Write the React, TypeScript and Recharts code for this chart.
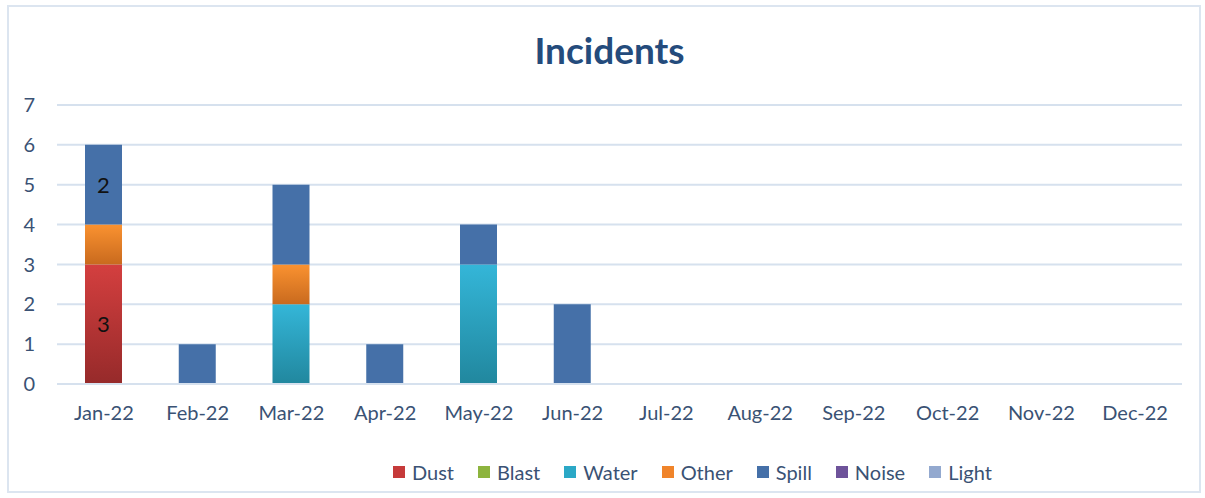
import React from 'react';
import { BarChart, Bar, XAxis, YAxis, CartesianGrid, LabelList } from 'recharts';

const months = ['Jan-22', 'Feb-22', 'Mar-22', 'Apr-22', 'May-22', 'Jun-22', 'Jul-22', 'Aug-22', 'Sep-22', 'Oct-22', 'Nov-22', 'Dec-22'];
const dust = [3, 0, 0, 0, 0, 0, 0, 0, 0, 0, 0, 0];
const blast = [0, 0, 0, 0, 0, 0, 0, 0, 0, 0, 0, 0];
const water = [0, 0, 2, 0, 3, 0, 0, 0, 0, 0, 0, 0];
const other = [1, 0, 1, 0, 0, 0, 0, 0, 0, 0, 0, 0];
const spill = [2, 1, 2, 1, 1, 2, 0, 0, 0, 0, 0, 0];
const noise = [0, 0, 0, 0, 0, 0, 0, 0, 0, 0, 0, 0];
const light = [0, 0, 0, 0, 0, 0, 0, 0, 0, 0, 0, 0];
// only January carries data labels in the original
const dustLabels = [3, null, null, null, null, null, null, null, null, null, null, null];
const spillLabels = [2, null, null, null, null, null, null, null, null, null, null, null];
const yTicks = [0, 1, 2, 3, 4, 5, 6, 7];

const series = [
  { key: 'Dust', color: '#C63A3A', fill: 'url(#gDust)' },
  { key: 'Blast', color: '#8DB43E', fill: '#8DB43E' },
  { key: 'Water', color: '#2BA8C6', fill: 'url(#gWater)' },
  { key: 'Other', color: '#F0842A', fill: 'url(#gOther)' },
  { key: 'Spill', color: '#4570A8', fill: '#4570A8' },
  { key: 'Noise', color: '#6E539A', fill: '#6E539A' },
  { key: 'Light', color: '#93A9CF', fill: '#93A9CF' },
];

const data = months.map((m, i) => ({
  month: m,
  Dust: dust[i],
  Blast: blast[i],
  Water: water[i],
  Other: other[i],
  Spill: spill[i],
  Noise: noise[i],
  Light: light[i],
  dustLabel: dustLabels[i],
  spillLabel: spillLabels[i],
}));

const FONT = 'Lato, "Open Sans", sans-serif';
const TEXT = '#3A5274';

const App: React.FC = () => {
  return (
    <div style={{ position: 'absolute', left: 0, top: 0, width: 1205, height: 498, background: '#fff' }}>
      <div
        style={{
          position: 'absolute', left: 7, top: 5, width: 1194, height: 488,
          border: '2px solid #DCE5F0', boxSizing: 'border-box',
        }}
      />
      <div
        style={{
          position: 'absolute', left: 0, top: 28, width: 1219, textAlign: 'center',
          fontFamily: FONT, fontWeight: 'bold', fontSize: 37, color: '#244B7C', lineHeight: 1.2,
        }}
      >
        Incidents
      </div>
      <div style={{ position: 'absolute', left: 0, top: 0 }}>
        <BarChart
          width={1205}
          height={498}
          data={data}
          margin={{ top: 105, right: 23, left: 0, bottom: 113 }}
        >
          <defs>
            <linearGradient id="gDust" x1="0" y1="0" x2="0" y2="1">
              <stop offset="0%" stopColor="#D43F3F" />
              <stop offset="100%" stopColor="#962A2A" />
            </linearGradient>
            <linearGradient id="gWater" x1="0" y1="0" x2="0" y2="1">
              <stop offset="0%" stopColor="#34B6D8" />
              <stop offset="100%" stopColor="#21879E" />
            </linearGradient>
            <linearGradient id="gOther" x1="0" y1="0" x2="0" y2="1">
              <stop offset="0%" stopColor="#FA9230" />
              <stop offset="100%" stopColor="#C96A1E" />
            </linearGradient>
          </defs>
          <CartesianGrid vertical={false} stroke="#D6E1EE" strokeWidth={2} />
          <XAxis
            dataKey="month"
            axisLine={{ stroke: '#D6E1EE', strokeWidth: 2 }}
            tickLine={false}
            tickSize={0}
            tickMargin={22}
            height={1}
            tick={{ fill: TEXT, fontSize: 20, fontFamily: FONT }}
            interval={0}
          />
          <YAxis
            domain={[0, 7]}
            ticks={yTicks}
            width={57}
            axisLine={false}
            tickLine={false}
            tickSize={0}
            tickMargin={22}
            tick={{ fill: TEXT, fontSize: 20, fontFamily: FONT }}
          />
          {series.map((s) => (
            <Bar key={s.key} dataKey={s.key} stackId="a" fill={s.fill} barSize={37} isAnimationActive={false}>
              {s.key === 'Dust' && (
                <LabelList dataKey="dustLabel" position="center" fill="#111" fontSize={22} fontFamily={FONT} />
              )}
              {s.key === 'Spill' && (
                <LabelList dataKey="spillLabel" position="center" fill="#111" fontSize={22} fontFamily={FONT} />
              )}
            </Bar>
          ))}
        </BarChart>
      </div>
      <div
        style={{
          position: 'absolute', left: 393, top: 460, display: 'flex',
          fontFamily: FONT, fontSize: 20, lineHeight: '24px', color: TEXT,
        }}
      >
        {series.map((s) => (
          <div key={s.key} style={{ display: 'flex', alignItems: 'center', marginRight: 24 }}>
            <span style={{ width: 12, height: 12, background: s.color, marginRight: 7, display: 'inline-block' }} />
            <span>{s.key}</span>
          </div>
        ))}
      </div>
    </div>
  );
};

export default App;
